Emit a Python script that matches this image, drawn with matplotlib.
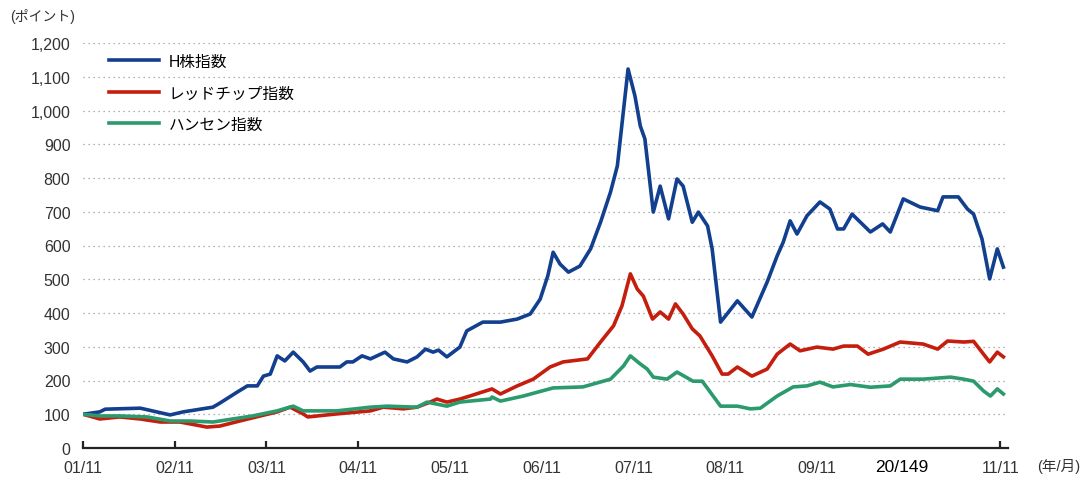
import numpy as np
import matplotlib
matplotlib.use("Agg")
import matplotlib.pyplot as plt

plt.rcParams['font.family'] = ['Liberation Sans', 'Noto Sans CJK JP', 'DejaVu Sans']

# months since 2001/11
h_x = [0, 2.2, 2.9, 7.5, 11.4, 13.1, 17.0, 17.9, 20.2, 21.5, 22.8, 23.6, 24.5, 25.4, 26.4,
       27.5, 28.8, 29.7, 30.6, 33.6, 34.5, 35.3, 36.5, 37.6, 39.5, 40.6, 42.4, 43.7, 44.8,
       45.8, 46.5, 47.6, 49.3, 50.2, 52.3, 54.6, 56.8, 58.5, 59.8, 60.8, 61.5, 62.4, 63.5,
       65.0, 66.4, 67.7, 69.0, 69.9, 71.3, 72.2, 72.9, 73.5, 74.6, 75.5, 76.6, 77.7, 78.5,
       79.7, 80.5, 81.7, 82.3, 83.4, 85.6, 87.5, 89.5, 90.8, 91.6, 92.5, 93.4, 94.7, 96.4,
       97.7, 98.7, 99.5, 100.6, 103.0, 104.6, 105.6, 107.3, 109.5, 111.8, 112.5, 114.5,
       115.7, 116.5, 117.6, 118.6, 119.6, 120.4]
h_y = [100, 107, 115, 118, 98, 107, 121, 133, 166, 184, 184, 213, 219, 273, 258,
       284, 255, 228, 240, 240, 255, 255, 273, 264, 284, 264, 255, 270, 293,
       284, 290, 270, 299, 347, 373, 373, 382, 397, 441, 510, 580, 545, 521,
       539, 590, 669, 758, 836, 1123, 1043, 954, 916, 699, 776, 679, 797, 776,
       669, 699, 658, 590, 373, 436, 388, 492, 569, 610, 673, 634, 688, 729,
       708, 649, 649, 693, 640, 664, 640, 738, 714, 703, 744, 744,
       708, 693, 619, 501, 590, 536]

red_x = [0, 2.2, 4.8, 7.5, 10.1, 12.7, 16.2, 17.9, 20.5, 23.2, 25.4, 27.1, 28.8, 29.4,
         33.2, 37.6, 39.3, 41.9, 43.7, 45.4, 46.3, 47.6, 49.3, 50.6, 53.5, 54.6, 56.8,
         58.9, 61.1, 62.8, 66.0, 67.7, 69.4, 70.5, 71.6, 72.5, 73.3, 74.5, 75.5, 76.6,
         77.5, 78.5, 79.7, 80.7, 82.3, 83.6, 84.4, 85.6, 87.5, 89.5, 90.8, 92.5, 93.8,
         96.0, 98.1, 99.5, 101.3, 102.7, 104.7, 106.9, 109.9, 111.8, 113.1, 115.2, 116.5,
         117.8, 118.6, 119.6, 120.4]
red_y = [100, 86, 92, 86, 77, 77, 62, 65, 80, 95, 107, 121, 101, 92,
         101, 110, 121, 116, 121, 136, 145, 136, 145, 154, 175, 160, 184,
         204, 240, 255, 264, 314, 362, 421, 516, 471, 450, 382, 403, 382,
         427, 397, 353, 332, 273, 219, 219, 240, 213, 234, 278, 308, 288,
         299, 293, 302, 302, 278, 293, 314, 308, 293, 317, 314, 316,
         278, 255, 284, 270]

hs_x = [0, 2.2, 4.8, 8.4, 11.4, 14.0, 17.0, 19.6, 22.2, 25.4, 27.5, 28.8, 33.2, 37.6,
        39.8, 43.7, 45.0, 47.6, 49.3, 50.6, 53.3, 53.5, 54.6, 57.6, 61.5, 65.4, 69.0,
        70.7, 71.6, 72.9, 73.8, 74.6, 76.4, 77.7, 79.8, 81.0, 83.4, 85.6, 87.3, 88.6,
        90.8, 92.9, 94.7, 96.4, 98.1, 100.4, 103.0, 105.6, 106.9, 109.9, 113.5, 115.2,
        116.5, 117.8, 118.7, 119.6, 120.4]
hs_y = [100, 95, 95, 92, 80, 80, 77, 86, 95, 110, 124, 110, 110, 121,
        124, 121, 136, 124, 136, 139, 145, 151, 139, 154, 178, 181, 204,
        243, 273, 249, 234, 210, 204, 225, 198, 198, 124, 124, 116, 118,
        154, 181, 184, 195, 181, 188, 180, 184, 204, 204, 210, 204,
        198, 169, 154, 175, 160]

tick_pos = [0, 12, 24, 36, 48, 60, 72, 84, 96, 108, 120]
tick_lab = ['01/11', '02/11', '03/11', '04/11', '05/11', '06/11', '07/11', '08/11',
            '09/11', '', '11/11']
names = ['H株指数', 'レッドチップ指数', 'ハンセン指数']
colors = ['#123f8e', '#c41e0e', '#2b9a6c']

fig = plt.figure(figsize=(10.88, 4.81), dpi=100)
ax = fig.add_axes([83 / 1088, 32 / 481, 925 / 1088, 405 / 481])

ax.plot(h_x, h_y, color=colors[0], lw=2.6, label=names[0], zorder=3)
ax.plot(red_x, red_y, color=colors[1], lw=2.6, label=names[1], zorder=3)
ax.plot(hs_x, hs_y, color=colors[2], lw=2.6, label=names[2], zorder=3)

ax.set_xlim(0, 121.0)
ax.set_ylim(0, 1200)
ax.set_yticks(range(0, 1201, 100))
ax.set_yticklabels([f'{v:,}' for v in range(0, 1201, 100)])
ax.set_xticks(tick_pos)
ax.set_xticklabels(tick_lab)

for s in ['left', 'right', 'top']:
    ax.spines[s].set_visible(False)
ax.spines['bottom'].set_linewidth(1.6)
ax.spines['bottom'].set_color('#222222')

ax.tick_params(axis='y', length=0, pad=9, labelsize=11.5, labelcolor='#333333')
ax.tick_params(axis='x', direction='in', length=5, width=1.6, color='#222222',
               pad=9, labelsize=11.5, labelcolor='#333333')
for i, t in enumerate(ax.xaxis.get_major_ticks()):
    if 4 <= i <= 9:
        t.tick1line.set_visible(False)

ax.yaxis.grid(True, color='#999999', linestyle=(0, (1, 3)), lw=0.9)
ax.set_axisbelow(True)

ax.legend(loc='upper left', bbox_to_anchor=(0.013, 1.008), frameon=False,
          fontsize=11.3, handlelength=3.2, handletextpad=0.6, labelspacing=1.05)

fig.text(10 / 1088, 1 - 17 / 481, '(ポイント)', fontsize=10, color='#333333', va='center')
fig.text(1037 / 1088, 1 - 467 / 481, '(年/月)', fontsize=10.5, color='#333333', va='center')
fig.text(902 / 1088, 1 - 468 / 481, '20/149', fontsize=12.5, color='black',
         va='center', ha='center')

fig.savefig('out.png', dpi=100)
